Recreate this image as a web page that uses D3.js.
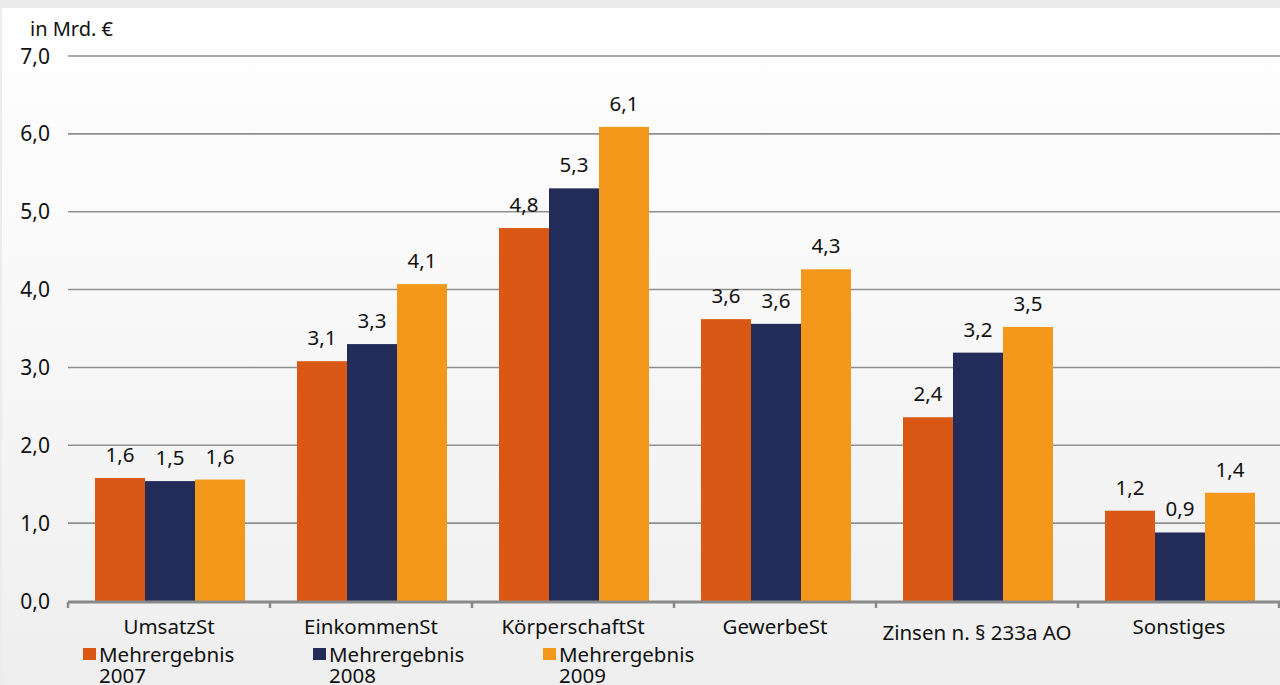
<!DOCTYPE html>
<html>
<head>
<meta charset="utf-8">
<script src="https://cdn.jsdelivr.net/npm/d3@7"></script>
<style>
  html, body { margin: 0; padding: 0; background: #ececec; }
  svg { display: block; }
  text { font-family: "Noto Sans", "Open Sans", sans-serif; fill: #111; }
</style>
</head>
<body>
<svg id="chart" width="1280" height="685"></svg>
<script>
// Tax categories and additional revenue per year (billion euro)
const categories = ["UmsatzSt", "EinkommenSt", "KörperschaftSt", "GewerbeSt", "Zinsen n. § 233a AO", "Sonstiges"];
const seriesNames = ["Mehrergebnis 2007", "Mehrergebnis 2008", "Mehrergebnis 2009"];
const values2007 = [1.58, 3.08, 4.79, 3.62, 2.36, 1.16];
const values2008 = [1.54, 3.30, 5.30, 3.56, 3.19, 0.88];
const values2009 = [1.56, 4.07, 6.09, 4.26, 3.52, 1.39];
const yTicks = [0, 1, 2, 3, 4, 5, 6, 7];
const colors = ["#da5816", "#232c59", "#f4981c"];

const series = [values2007, values2008, values2009];
const fmt = v => d3.format(".1f")(v).replace(".", ",");

const svg = d3.select("#chart");
const W = 1280, H = 685;

// background: grey top strip and a soft white-to-grey panel
const defs = svg.append("defs");
const grad = defs.append("linearGradient").attr("id", "bg").attr("x1", 0).attr("y1", 0).attr("x2", 0).attr("y2", 1);
grad.append("stop").attr("offset", "0%").attr("stop-color", "#ffffff");
grad.append("stop").attr("offset", "75%").attr("stop-color", "#f3f3f3");
grad.append("stop").attr("offset", "100%").attr("stop-color", "#eeeeee");
svg.append("rect").attr("width", W).attr("height", H).attr("fill", "#ececec");
svg.append("rect").attr("x", 2).attr("y", 8).attr("width", W - 2).attr("height", H - 8).attr("fill", "url(#bg)");

const x0 = d3.scaleBand().domain(categories).range([68, 1280]).paddingInner(0).paddingOuter(0);
const x1 = d3.scaleBand().domain(d3.range(3)).range([27, x0.bandwidth() - 25]);
const y = d3.scaleLinear().domain([0, 7]).range([601, 56]);

// horizontal gridlines
svg.append("g").selectAll("line").data(yTicks.filter(d => d > 0)).join("line")
  .attr("x1", 68).attr("x2", W)
  .attr("y1", d => y(d)).attr("y2", d => y(d))
  .attr("stroke", "#8f8f8f").attr("stroke-width", 1.6);

// y tick labels
svg.append("g").selectAll("text").data(yTicks).join("text")
  .attr("x", 50).attr("y", d => y(d) + 7.5)
  .attr("text-anchor", "end")
  .style("font-size", "21px")
  .text(d => fmt(d));

svg.append("text").attr("x", 30).attr("y", 36).style("font-size", "20px").text("in Mrd. €");

// bars
const groups = svg.append("g").selectAll("g").data(categories).join("g")
  .attr("transform", c => `translate(${x0(c)},0)`);

groups.selectAll("rect").data((c, i) => series.map((s, k) => ({ k, v: s[i] }))).join("rect")
  .attr("x", d => x1(d.k))
  .attr("width", x1.bandwidth())
  .attr("y", d => y(d.v))
  .attr("height", d => y(0) - y(d.v))
  .attr("fill", d => colors[d.k]);

groups.selectAll("text.val").data((c, i) => series.map((s, k) => ({ k, v: s[i] }))).join("text")
  .attr("class", "val")
  .attr("x", d => x1(d.k) + x1.bandwidth() / 2)
  .attr("y", d => y(d.v) - 16)
  .attr("text-anchor", "middle")
  .style("font-size", "20.5px")
  .text(d => fmt(d.v));

// x axis with boundary ticks
svg.append("line").attr("x1", 68).attr("x2", W).attr("y1", 602).attr("y2", 602)
  .attr("stroke", "#8a8a8a").attr("stroke-width", 3);
const bounds = categories.map(c => x0(c)).concat([x0.range()[1] - 1]);
svg.append("g").selectAll("line").data(bounds).join("line")
  .attr("x1", d => d).attr("x2", d => d).attr("y1", 602).attr("y2", 608)
  .attr("stroke", "#8a8a8a").attr("stroke-width", 2.5);

// category labels
svg.append("g").selectAll("text").data(categories).join("text")
  .attr("x", c => x0(c) + x0.bandwidth() / 2)
  .attr("y", (c, i) => i === 4 ? 640 : 634)
  .attr("text-anchor", "middle")
  .style("font-size", "20.5px")
  .text(c => c);

// legend
const legendX = [83, 313, 543];
const legend = svg.append("g").selectAll("g").data(seriesNames).join("g")
  .attr("transform", (d, i) => `translate(${legendX[i]},648)`);
legend.append("rect").attr("width", 13).attr("height", 12).attr("fill", (d, i) => colors[i]);
legend.append("text").attr("x", 16).attr("y", 14).style("font-size", "20.5px")
  .text(d => d.split(" ")[0]);
legend.append("text").attr("x", 16).attr("y", 35).style("font-size", "20.5px")
  .text(d => d.split(" ")[1]);
</script>
</body>
</html>
